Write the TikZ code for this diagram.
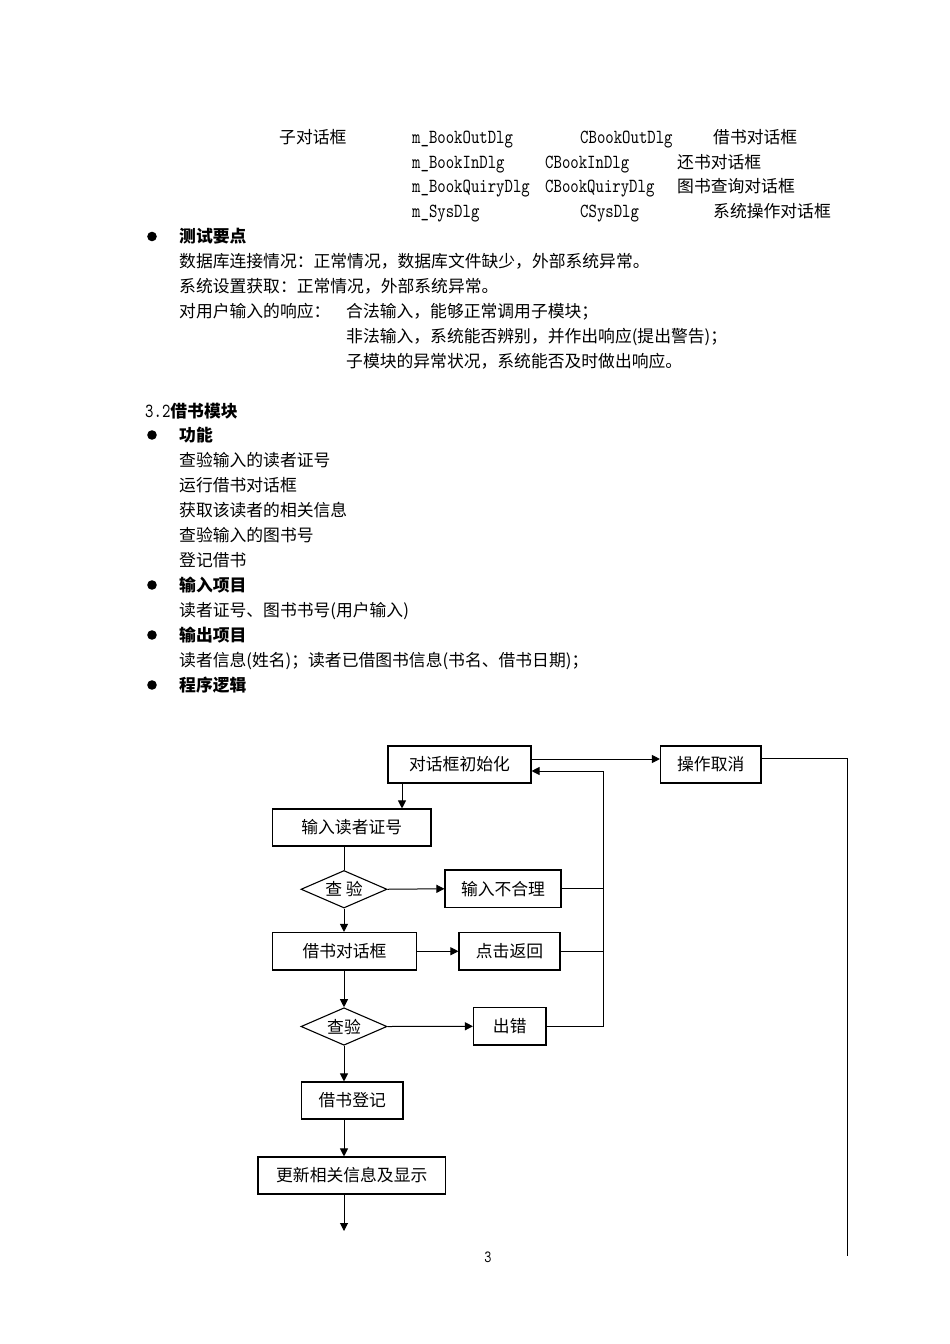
\documentclass[tikz,border=0pt]{standalone}
\usepackage{fontspec}
\newfontfamily\cjk{Noto Sans CJK SC}
\newfontfamily\monof{lmmono10-regular.otf}[FakeStretch=0.8]
\usetikzlibrary{arrows.meta,shapes.geometric}
\begin{document}
\begin{tikzpicture}[x=1pt,y=-1pt,
  txt/.style={anchor=base west,inner sep=0pt,yshift=-6.4pt,font=\cjk\fontsize{16.8}{20}\selectfont},
  bld/.style={txt,font=\cjk\bfseries\fontsize{16.8}{20}\selectfont},
  mono/.style={anchor=base west,inner sep=0pt,yshift=-6pt,font=\monof\fontsize{20}{22}\selectfont},
  box/.style={draw,line width=1.1pt,rectangle,inner sep=0pt,font=\cjk\fontsize{16.8}{20}\selectfont},
  dia/.style={draw,line width=1.1pt,diamond,aspect=2.3,inner sep=0pt,minimum width=86pt,minimum height=37.5pt,font=\cjk\fontsize{16.8}{20}\selectfont},
  arr/.style={line width=1pt,-{Triangle[length=8pt,width=8pt]}},
  ln/.style={line width=1pt}]
\useasboundingbox[fill=white] (0,0) rectangle (950,1344);

% ---- top table ----
\node[txt]  (a1) at (279,137.5) {子对话框};
\node[mono] (a2) at (412,137.5) {m\_BookOutDlg};
\node[mono] (a3) at (580,137.5) {CBookOutDlg};
\node[txt]  (a4) at (713,137.5) {借书对话框};
\node[mono] (b2) at (412,162) {m\_BookInDlg};
\node[mono] (b3) at (545,162) {CBookInDlg};
\node[txt]  (b4) at (677,162) {还书对话框};
\node[mono] (c2) at (412,186.5) {m\_BookQuiryDlg};
\node[mono] (c3) at (545,186.5) {CBookQuiryDlg};
\node[txt]  (c4) at (677,186.5) {图书查询对话框};
\node[mono] (d2t) at (412,211.5) {m\_SysDlg};
\node[mono] (d3t) at (580,211.5) {CSysDlg};
\node[txt]  (d4t) at (713,211.5) {系统操作对话框};

% ---- bullets ----
\fill (152,236.5) circle (4.8pt);
\fill (152,435) circle (4.8pt);
\fill (152,585) circle (4.8pt);
\fill (152,635) circle (4.8pt);
\fill (152,685) circle (4.8pt);

\node[bld] (h1) at (179,236.5) {测试要点};
\node[txt] (e1) at (179,261) {数据库连接情况：正常情况，数据库文件缺少，外部系统异常。};
\node[txt] (e2) at (179,286) {系统设置获取：正常情况，外部系统异常。};
\node[txt] (e3) at (179,311) {对用户输入的响应：};
\node[txt] (e4) at (346,311) {合法输入，能够正常调用子模块；};
\node[txt] (e5) at (346,336) {非法输入，系统能否辨别，并作出响应(提出警告)；};
\node[txt] (e6) at (346,361) {子模块的异常状况，系统能否及时做出响应。};

\node[bld] (sec) at (145,411) {{\monof\fontsize{20}{22}\selectfont 3.2}借书模块};
\node[bld] (h2) at (179,435) {功能};
\node[txt] (f1) at (179,460) {查验输入的读者证号};
\node[txt] (f2) at (179,485) {运行借书对话框};
\node[txt] (f3) at (179,510) {获取该读者的相关信息};
\node[txt] (f4) at (179,535) {查验输入的图书号};
\node[txt] (f5) at (179,560) {登记借书};
\node[bld] (h3) at (179,585) {输入项目};
\node[txt] (g1) at (179,610) {读者证号、图书书号(用户输入)};
\node[bld] (h4) at (179,635) {输出项目};
\node[txt] (g2) at (179,660) {读者信息(姓名)；读者已借图书信息(书名、借书日期)；};
\node[bld] (h5) at (179,685) {程序逻辑};

% ---- flowchart ----
\node[box,minimum width=143pt,minimum height=37pt]   (init)   at (459.5,764.5) {对话框初始化};
\node[box,minimum width=100.5pt,minimum height=37pt] (cancel) at (710.75,764.5) {操作取消};
\node[box,minimum width=158.5pt,minimum height=37pt] (inrd)   at (351.75,827.5) {输入读者证号};
\node[dia] (d1) at (344,889.25) {查 验};
\node[box,minimum width=116pt,minimum height=37.5pt] (bad)    at (503,888.75) {输入不合理};
\node[box,minimum width=144pt,minimum height=37.5pt] (dlg)    at (344.5,951.25) {借书对话框};
\node[box,minimum width=101pt,minimum height=37.5pt] (back)   at (509.5,951.25) {点击返回};
\node[dia] (d2) at (344,1026.5) {查验};
\node[box,minimum width=72.5pt,minimum height=37.5pt] (err)   at (509.75,1026.25) {出错};
\node[box,minimum width=101.5pt,minimum height=37pt] (reg)    at (352.25,1100.5) {借书登记};
\node[box,minimum width=187.5pt,minimum height=37pt] (upd)    at (351.75,1175.5) {更新相关信息及显示};

\coordinate (xa) at (402,0);
\coordinate (rtop) at (603,771);
\coordinate (rb) at (847,1256);
\coordinate (fin) at (344,1231);

\draw[arr] ([yshift=5.5pt]init.east) -- ([yshift=5.5pt]init.east -| cancel.west);
\draw[ln] ([yshift=6.5pt]cancel.east) -| (rb);
\draw[arr] (init.south -| xa) -- (inrd.north -| xa);
\draw[ln] (inrd.south -| d1.north) -- (d1.north);
\draw[arr] (d1.east) -- (bad.west);
\draw[arr] (d1.south) -- (d1.south |- dlg.north);
\draw[arr] (dlg.east) -- (back.west);
\draw[arr] (dlg.south -| d2.north) -- (d2.north);
\draw[arr] (d2.east) -- (err.west);
\draw[arr] (d2.south) -- (d2.south |- reg.north);
\draw[arr] (d2.south |- reg.south) -- (d2.south |- upd.north);
\draw[arr] (d2.south |- upd.south) -- (fin);
\draw[arr] (err.east) -| (rtop) -- (rtop -| init.east);
\draw[ln] (bad.east) -- (bad.east -| rtop);
\draw[ln] (back.east) -- (back.east -| rtop);

\node[font=\monof\fontsize{17}{18}\selectfont,inner sep=0pt] (pg) at (488,1257) {3};
\end{tikzpicture}
\end{document}
